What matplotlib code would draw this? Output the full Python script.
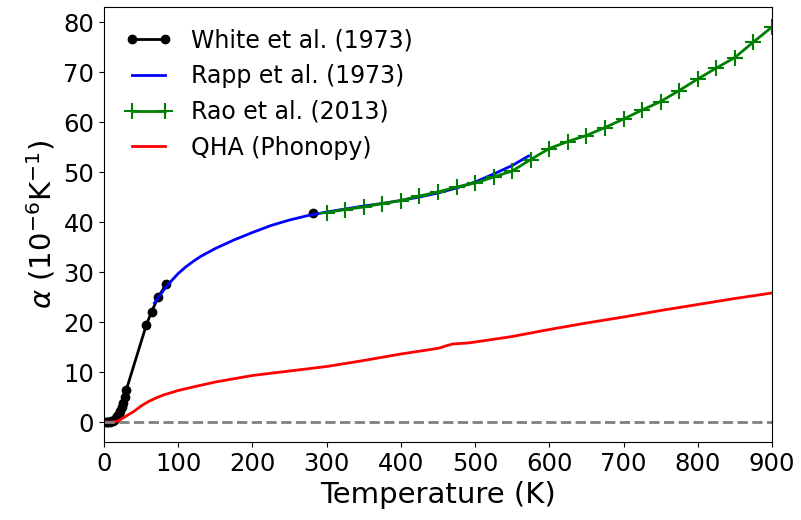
import matplotlib
matplotlib.use("Agg")
import matplotlib.pyplot as plt

# White et al. (1973) dilatometry points; the room-temperature value is a
# separate measurement, so the line is broken before it (NaN)
white_T = [2, 4, 6, 8, 10, 12, 14, 16, 18, 20, 22, 24, 26, 28, 30,
           57, 64, 73, 84, float("nan"), 282]
white_alpha = [0.0, 0.01, 0.03, 0.07, 0.15, 0.3, 0.5, 0.8, 1.2, 1.7,
               2.3, 3.0, 3.9, 5.0, 6.4, 19.4, 22.0, 25.0, 27.6, float("nan"),
               41.8]

# Rapp et al. (1973)
rapp_T = [68, 80, 90, 100, 110, 120, 130, 150, 175, 200, 225, 250, 275,
          300, 325, 350, 375, 400, 425, 450, 475, 500, 525, 550, 572]
rapp_alpha = [23.8, 26.3, 28.1, 29.7, 31.0, 32.1, 33.1, 34.7, 36.4, 37.9,
              39.3, 40.4, 41.3, 42.0, 42.6, 43.2, 43.7, 44.3, 45.0, 45.8,
              46.8, 48.0, 49.6, 51.3, 53.2]

# Rao et al. (2013)
rao_T = [300, 325, 350, 375, 400, 425, 450, 475, 500, 525, 550, 575, 600,
         625, 650, 675, 700, 725, 750, 775, 800, 825, 850, 875, 900]
rao_alpha = [41.9, 42.5, 43.0, 43.7, 44.3, 45.2, 46.0, 47.0, 47.8, 49.0,
             50.2, 52.5, 54.7, 56.1, 57.3, 58.9, 60.6, 62.4, 64.1, 66.3,
             68.6, 70.8, 72.9, 76.0, 79.0]

# Quasi-harmonic approximation (Phonopy)
qha_T = [0, 10, 15, 20, 30, 40, 50, 60, 70, 80, 100, 120, 150, 200, 250,
         300, 350, 400, 440, 452, 460, 470, 490, 500, 550, 600, 650, 700,
         750, 800, 850, 900]
qha_alpha = [0.0, 0.0, 0.05, 0.3, 1.2, 2.1, 3.2, 4.1, 4.8, 5.4, 6.3, 7.0,
             8.0, 9.3, 10.2, 11.1, 12.3, 13.6, 14.5, 14.8, 15.2, 15.6,
             15.8, 16.0, 17.1, 18.5, 19.8, 21.0, 22.3, 23.5, 24.7, 25.8]

fig = plt.figure(figsize=(8.01, 5.20), dpi=100)
ax = fig.add_axes([104 / 801, 78 / 520, 668 / 801, 435 / 520])

ax.plot(white_T, white_alpha, color="black", marker="o", markersize=6,
        linewidth=2, label="White et al. (1973)")
ax.plot(rapp_T, rapp_alpha, color="blue", linewidth=2,
        label="Rapp et al. (1973)")
ax.plot(rao_T, rao_alpha, color="green", marker="+", markersize=11,
        markeredgewidth=1.5, linewidth=2, label="Rao et al. (2013)")
ax.plot(qha_T, qha_alpha, color="red", linewidth=2, label="QHA (Phonopy)")
ax.axhline(0, color="gray", linestyle="--", linewidth=2)

ax.set_xlim(0, 900)
ax.set_ylim(-4, 83)
ax.set_xticks(range(0, 901, 100))
ax.set_yticks(range(0, 81, 10))
ax.tick_params(labelsize=17.5)
ax.set_xlabel("Temperature (K)", fontsize=21)
ax.set_ylabel(r"$\alpha$ ($10^{-6}$K$^{-1}$)", fontsize=21)

ax.legend(loc="upper left", frameon=False, fontsize=17, numpoints=2)

fig.savefig("out.png", dpi=100)
